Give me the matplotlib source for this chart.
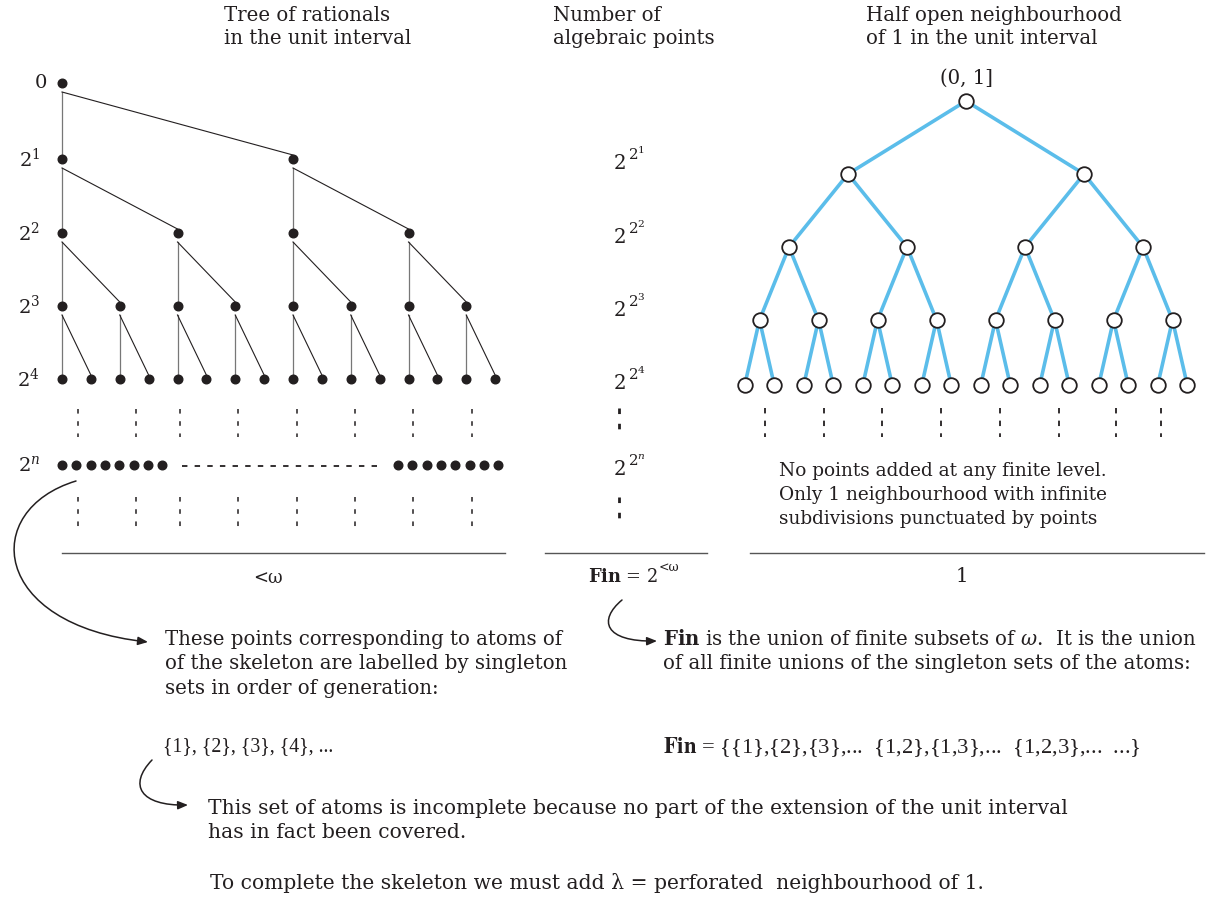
import matplotlib
matplotlib.use("Agg")
import matplotlib.pyplot as plt
from matplotlib.path import Path
from matplotlib.patches import FancyArrowPatch

plt.rcParams['font.family'] = ['DejaVu Serif']
plt.rcParams['mathtext.fontset'] = 'dejavuserif'

INK = '#231f20'
BLUE = '#5bbdea'
FS = 14.2

# --- data -------------------------------------------------------------
headers = ["Tree of rationals\nin the unit interval",
           "Number of\nalgebraic points",
           "Half open neighbourhood\nof 1 in the unit interval"]
level_labels = ['0', '$2^1$', '$2^2$', '$2^3$', '$2^4$']
level_y = [83, 159, 233, 306, 379]
algebraic_exps = ['1', '2', '3', '4']
right_y = [101, 174, 247, 320, 385]
left_dotted_x = [78, 136, 180, 238, 297, 355, 413, 472]
right_dotted_x = [765, 824, 882, 941, 1000, 1059, 1116, 1161]
bottom_labels = ['<ω', r'$\mathbf{Fin}$ = 2', '1']
fin_exponent = '<ω'
right_note = ("No points added at any finite level.\n"
              "Only 1 neighbourhood with infinite\n"
              "subdivisions punctuated by points")
note_atoms = ("These points corresponding to atoms of\n"
              "of the skeleton are labelled by singleton\n"
              "sets in order of generation:")
note_fin = (r"$\mathbf{Fin}$ is the union of finite subsets of $\omega$.  It is the union" "\n"
            "of all finite unions of the singleton sets of the atoms:")
singletons = "{1}, {2}, {3}, {4}, ..."
fin_set = r"$\mathbf{Fin}$ = {{1},{2},{3},...  {1,2},{1,3},...  {1,2,3},...  ...}"
note_incomplete = ("This set of atoms is incomplete because no part of the extension of the unit interval\n"
                   "has in fact been covered.")
note_complete = "To complete the skeleton we must add λ = perforated  neighbourhood of 1."

fig = plt.figure(figsize=(12.06, 8.97), dpi=100)
ax = fig.add_axes([0, 0, 1, 1])
ax.set_xlim(0, 1206)
ax.set_ylim(897, 0)
ax.axis('off')

# headers
for hx, h in zip([224, 553, 866], headers):
    ax.text(hx, 6, h, fontsize=FS, color=INK, va='top', linespacing=1.3)

# --- left tree of rationals
x0, span = 62, 462
prev = None
for k, y in enumerate(level_y):
    n = 2 ** k
    xs = [x0 + span * i / n for i in range(n)]
    if prev is not None:
        py = level_y[k - 1]
        for j, px in enumerate(prev):
            ax.plot([px, xs[2 * j]], [py + 9, y - 4], color='#777777', lw=0.9)
            ax.plot([px, xs[2 * j + 1]], [py + 9, y - 4], color=INK, lw=0.8)
    ax.plot(xs, [y] * n, 'o', color=INK, ms=6.2)
    lab_x = 47 if k == 0 else 40
    ax.text(lab_x, y, level_labels[k], fontsize=14, color=INK, ha='right', va='center')
    prev = xs

for x in left_dotted_x:
    ax.plot([x, x], [409, 437], color=INK, lw=1.1, ls=(0, (3, 5)))
    ax.plot([x, x], [497, 527], color=INK, lw=1.1, ls=(0, (3, 5)))

# 2^n row
ax.text(40, 465, '$2^n$', fontsize=14, color=INK, ha='right', va='center')
ax.plot([62 + 14.3 * i for i in range(8)], [465] * 8, 'o', color=INK, ms=6.2)
ax.plot([398 + 14.3 * i for i in range(8)], [465] * 8, 'o', color=INK, ms=6.2)
ax.plot([182, 380], [466, 466], color=INK, lw=1.3, ls=(0, (3, 4)))


# --- middle column
def tower(x, y, exp):
    ax.text(x, y + 10, '2', fontsize=FS, color=INK, ha='left', va='baseline')
    ax.text(x + 13.5, y + 1, '$2^{%s}$' % exp, fontsize=10.8, color=INK,
            ha='left', va='baseline')


for e, y in zip(algebraic_exps, level_y[1:]):
    tower(614, y, e)
ax.plot([619, 619], [408, 437], color=INK, lw=2, ls=(0, (2, 3.5)))
tower(614, 465, 'n')
ax.plot([619, 619], [497, 527], color=INK, lw=2, ls=(0, (2, 3.5)))

# --- right tree (half open neighbourhood)
cx, width = 966, 472
prev = None
nodes = []
for k, y in enumerate(right_y):
    n = 2 ** k
    xs = [cx + (i - (n - 1) / 2) * width / n for i in range(n)]
    if prev is not None:
        py = right_y[k - 1]
        for j, px in enumerate(prev):
            for c in (xs[2 * j], xs[2 * j + 1]):
                ax.plot([px, c], [py, y], color=BLUE, lw=2.6, zorder=2)
    nodes.append((xs, y))
    prev = xs
for xs, y in nodes:
    ax.plot(xs, [y] * len(xs), 'o', mfc='white', mec=INK, mew=1.3, ms=10.5, zorder=3)
ax.text(cx, 78, '(0, 1]', fontsize=FS, color=INK, ha='center', va='center')

for x in right_dotted_x:
    ax.plot([x, x], [408, 437], color=INK, lw=1.3, ls=(0, (3, 4)))

ax.text(779, 462, right_note, fontsize=13.3, color=INK, va='top', linespacing=1.42)

# --- base lines and labels
ax.plot([62, 505], [553, 553], color='#555555', lw=1)
ax.plot([545, 707], [553, 553], color='#555555', lw=1)
ax.plot([750, 1204], [553, 553], color='#555555', lw=1)
ax.text(268, 578, bottom_labels[0], fontsize=13, color=INK, ha='center', va='center')
ax.text(588, 582, bottom_labels[1], fontsize=12.8, color=INK, ha='left', va='baseline')
ax.text(659, 571, fin_exponent, fontsize=9, color=INK, ha='left', va='baseline')
ax.text(962, 577, bottom_labels[2], fontsize=FS, color=INK, ha='center', va='center')


# --- curved arrows
def curved_arrow(p0, c1, c2, p3):
    path = Path([p0, c1, c2, p3], [Path.MOVETO, Path.CURVE4, Path.CURVE4, Path.CURVE4])
    ax.add_patch(FancyArrowPatch(path=path, arrowstyle='-|>,head_length=6,head_width=2.5',
                                 lw=1.1, color=INK, mutation_scale=1))


curved_arrow((76, 481), (-20, 510), (-10, 625), (148, 642))
curved_arrow((622, 600), (598, 620), (604, 642), (657, 641))
curved_arrow((152, 760), (128, 785), (140, 806), (188, 805))

# --- notes
ax.text(165, 630, note_atoms, fontsize=FS, color=INK, va='top', linespacing=1.36)
ax.text(663, 629, note_fin, fontsize=FS, color=INK, va='top', linespacing=1.36)
ax.text(163, 747, singletons, fontsize=14.3, color=INK, va='center',
        family='Liberation Serif')
ax.text(663, 747, fin_set, fontsize=16.2, color=INK, va='center',
        family='Liberation Serif', math_fontfamily='stix')
ax.text(208, 799, note_incomplete, fontsize=14.6, color=INK, va='top', linespacing=1.32)
ax.text(210, 883, note_complete, fontsize=14.6, color=INK, va='center')

fig.savefig('out.png', dpi=100)
